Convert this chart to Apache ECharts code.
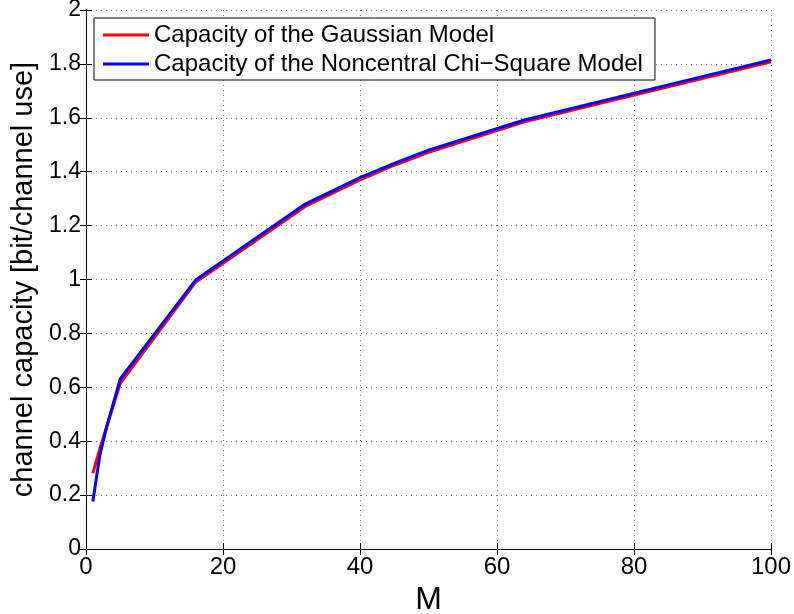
<!DOCTYPE html>
<html>
<head>
<meta charset="utf-8">
<script src="https://cdn.jsdelivr.net/npm/echarts@6/dist/echarts.min.js"></script>
<style>
  html, body { margin: 0; padding: 0; background: #fff; }
  #chart { width: 794px; height: 614px; }
</style>
</head>
<body>
<div id="chart"></div>
<script>
// Constellation size M and the capacity of both channel models
const mValues = [1, 2, 3, 5, 16, 32, 40, 45, 50, 64, 100];
const gaussianCapacity = [0.281, 0.370, 0.452, 0.615, 0.990, 1.271, 1.370, 1.424, 1.472, 1.585, 1.808];
const chiSquareCapacity = [0.176, 0.345, 0.452, 0.631, 0.998, 1.280, 1.378, 1.431, 1.480, 1.592, 1.815];
const seriesNames = ['Capacity of the Gaussian Model', 'Capacity of the Noncentral Chi\u2212Square Model'];

const pairs = (xs, ys) => xs.map((x, i) => [x, ys[i]]);
const FONT = '"Liberation Sans", Arial, Helvetica, sans-serif';

const chart = echarts.init(document.getElementById('chart'), null, { renderer: 'canvas' });

const gridLine = { show: true, lineStyle: { color: '#777', type: [1, 4], width: 1 } };
const inTicks = { show: true, inside: true, length: 6, lineStyle: { color: '#000', width: 1 } };

chart.setOption({
  backgroundColor: '#fff',
  animation: false,
  grid: { left: 86, right: 23, top: 10, bottom: 65, containLabel: false, outerBoundsMode: 'none' },
  legend: {
    orient: 'vertical',
    left: 94,
    top: 18,
    padding: [5, 12, 4, 9],
    itemGap: 5,
    itemWidth: 46,
    itemHeight: 3,
    borderColor: '#000',
    borderWidth: 1,
    backgroundColor: '#fff',
    icon: 'rect',
    textStyle: { fontFamily: FONT, fontSize: 24, lineHeight: 24, color: '#000' },
    data: seriesNames
  },
  xAxis: [
    {
      type: 'value', min: 0, max: 100, interval: 20,
      name: 'M', nameLocation: 'middle', nameGap: 31,
      nameTextStyle: { fontFamily: FONT, fontSize: 32, color: '#000' },
      axisLine: { show: true, lineStyle: { color: '#000', width: 1 } },
      axisTick: inTicks,
      axisLabel: { fontFamily: FONT, fontSize: 24, color: '#000', margin: 6 },
      splitLine: gridLine
    },
    {
      type: 'value', position: 'top', min: 0, max: 100, interval: 20,
      axisLine: { show: true, lineStyle: { color: '#000', width: 1 } },
      axisTick: inTicks,
      axisLabel: { show: false },
      splitLine: { show: false }
    }
  ],
  yAxis: [
    {
      type: 'value', min: 0, max: 2, interval: 0.2,
      name: 'channel capacity [bit/channel use]', nameLocation: 'middle', nameGap: 46,
      nameTextStyle: { fontFamily: FONT, fontSize: 29, color: '#000' },
      axisLine: { show: true, lineStyle: { color: '#000', width: 1 } },
      axisTick: inTicks,
      axisLabel: { fontFamily: FONT, fontSize: 23, color: '#000', margin: 5 },
      splitLine: gridLine
    },
    {
      type: 'value', position: 'right', min: 0, max: 2, interval: 0.2,
      axisLine: { show: true, lineStyle: { color: '#000', width: 1 } },
      axisTick: inTicks,
      axisLabel: { show: false },
      splitLine: { show: false }
    }
  ],
  series: [
    {
      name: seriesNames[0], type: 'line', xAxisIndex: 0, yAxisIndex: 0,
      data: pairs(mValues, gaussianCapacity),
      showSymbol: false, symbol: 'none',
      color: '#ff0000',
      lineStyle: { color: '#ff0000', width: 3 },
      z: 2
    },
    {
      name: seriesNames[1], type: 'line', xAxisIndex: 0, yAxisIndex: 0,
      data: pairs(mValues, chiSquareCapacity),
      showSymbol: false, symbol: 'none',
      color: '#0000ff',
      lineStyle: { color: '#0000ff', width: 3 },
      z: 3
    }
  ]
});
</script>
</body>
</html>
